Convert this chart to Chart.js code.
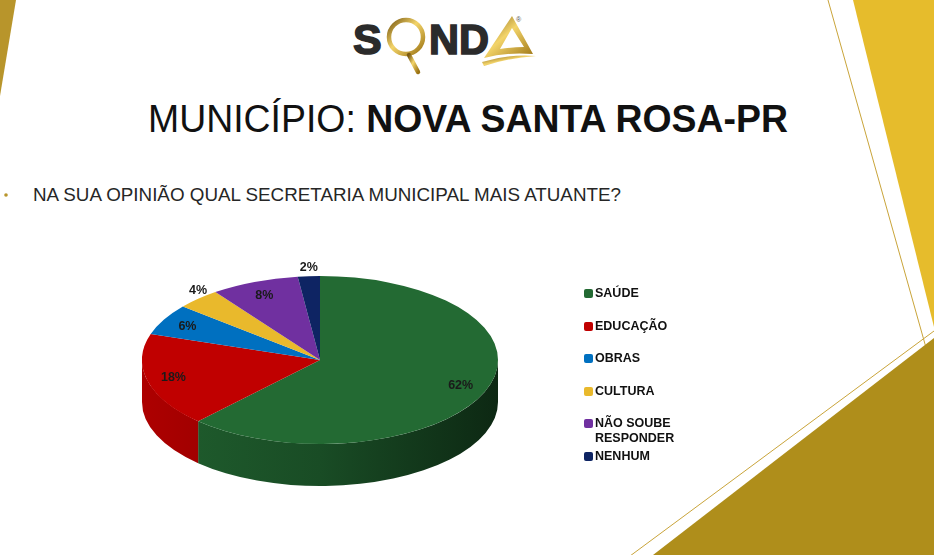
<!DOCTYPE html>
<html>
<head>
<meta charset="utf-8">
<script src="https://cdn.jsdelivr.net/npm/chart.js@4.4.0/dist/chart.umd.min.js"></script>
<style>
  html, body { margin: 0; padding: 0; background: #fff; }
  #slide { position: relative; width: 934px; height: 555px; overflow: hidden; background: #fff;
           font-family: "Liberation Sans", Arial, sans-serif; }
  #deco { position: absolute; left: 0; top: 0; }
  #pie { position: absolute; left: 0; top: 0; }
  #legend { position: absolute; left: 584px; top: 286px; margin: 0; padding: 0; list-style: none; }
  #legend li { height: 32.5px; display: flex; align-items: flex-start; }
  #legend .box { width: 9px; height: 9px; border-radius: 2px; margin-top: 3px; flex: none; }
  #legend .txt { width: 82px; margin-left: 2px; font-weight: bold; font-size: 12.5px; line-height: 15px; color: #111; }
</style>
</head>
<body>
<div id="slide">
  <svg id="deco" width="934" height="555" viewBox="0 0 934 555">
    <defs>
      <linearGradient id="gold" x1="0" y1="0" x2="1" y2="1">
        <stop offset="0" stop-color="#7a5a12"/>
        <stop offset="0.45" stop-color="#f3d46a"/>
        <stop offset="1" stop-color="#9c7414"/>
      </linearGradient>
    </defs>
    <!-- corner shapes -->
    <polygon points="0,0 16,0 0,96" fill="#B8952B"/>
    <polygon points="853,0 934,0 934,327" fill="#E6BC2C"/>
    <line x1="828" y1="0" x2="934" y2="376" stroke="#C9A43A" stroke-width="1"/>
    <line x1="630" y1="556" x2="934" y2="331" stroke="#C9A43A" stroke-width="1"/>
    <polygon points="653,555 934,338 934,555" fill="#AF8E1B"/>

    <!-- logo -->
    <text x="353" y="54" font-size="43" font-weight="bold" fill="#2B2B2B" stroke="#2B2B2B" stroke-width="1.6" font-family="Liberation Sans, Arial">S</text>
    <circle cx="406" cy="37" r="17" fill="none" stroke="url(#gold)" stroke-width="4.5"/>
    <line x1="409" y1="55" x2="418" y2="72" stroke="url(#gold)" stroke-width="4.5" stroke-linecap="round"/>
    <text x="429" y="54" font-size="43" font-weight="bold" fill="#2B2B2B" stroke="#2B2B2B" stroke-width="1.6" font-family="Liberation Sans, Arial" textLength="60" lengthAdjust="spacingAndGlyphs">ND</text>
    <path d="M512,16 L533,54 Q505,52 484,58 Z M512,28 L500,49 Q512,47 524,47 Z" fill="url(#gold)" fill-rule="evenodd"/>
    <path d="M482,62 Q508,54 536,56 Q508,58 484,66 Z" fill="url(#gold)"/>
    <text x="516" y="22" font-size="7" fill="#555" font-family="Liberation Sans, Arial">®</text>

    <!-- title -->
    <text x="148" y="132" font-size="38" fill="#111" font-family="Liberation Sans, Arial" textLength="640" lengthAdjust="spacingAndGlyphs">MUNICÍPIO: <tspan font-weight="bold">NOVA SANTA ROSA-PR</tspan></text>

    <!-- question -->
    <circle cx="6" cy="195" r="1.8" fill="#B8952B"/>
    <text x="33" y="201" font-size="19" fill="#262626" font-family="Liberation Sans, Arial" textLength="588" lengthAdjust="spacingAndGlyphs">NA SUA OPINIÃO QUAL SECRETARIA MUNICIPAL MAIS ATUANTE?</text>
  </svg>

  <canvas id="pie" width="934" height="555"></canvas>
  <ul id="legend"></ul>
</div>

<script>
// survey answers (percent)
const categories = ['SAÚDE', 'EDUCAÇÃO', 'OBRAS', 'CULTURA', 'NÃO SOUBE RESPONDER', 'NENHUM'];
const percents = [62, 18, 6, 4, 8, 2];
const sliceColors = ['#236A33', '#C00000', '#0070C0', '#E9B92C', '#7030A0', '#0E2463'];

// flattening of the pie and the height of its rim
const TILT = 0.472;
const DEPTH = 42;

function shade(hex, f) {
  const n = parseInt(hex.slice(1), 16);
  const r = Math.round(((n >> 16) & 255) * f);
  const g = Math.round(((n >> 8) & 255) * f);
  const b = Math.round((n & 255) * f);
  return 'rgb(' + r + ',' + g + ',' + b + ')';
}

// draws the rim, squashes the top into an ellipse, then writes the labels
const pie3d = {
  id: 'pie3d',
  beforeDatasetsDraw(chart) {
    const ctx = chart.ctx;
    const meta = chart.getDatasetMeta(0);
    const first = meta.data[0];
    const cx = first.x, cy = first.y, r = first.outerRadius;
    const ry = r * TILT;

    meta.data.forEach((arc, i) => {
      const a0 = Math.max(arc.startAngle, 0);
      const a1 = Math.min(arc.endAngle, Math.PI);
      if (a1 <= a0) return;
      const base = chart.data.datasets[0].backgroundColor[i];
      const grad = ctx.createLinearGradient(cx - r, 0, cx + r, 0);
      grad.addColorStop(0, shade(base, 0.9));
      grad.addColorStop(0.5, shade(base, 0.72));
      grad.addColorStop(1, shade(base, 0.38));
      ctx.beginPath();
      ctx.ellipse(cx, cy, r, ry, 0, a0, a1);
      ctx.lineTo(cx + r * Math.cos(a1), cy + ry * Math.sin(a1) + DEPTH);
      ctx.ellipse(cx, cy + DEPTH, r, ry, 0, a1, a0, true);
      ctx.closePath();
      ctx.fillStyle = grad;
      ctx.fill();
    });

    ctx.save();
    ctx.translate(cx, cy);
    ctx.scale(1, TILT);
    ctx.translate(-cx, -cy);
  },
  afterDatasetsDraw(chart) {
    const ctx = chart.ctx;
    ctx.restore();

    const meta = chart.getDatasetMeta(0);
    const values = chart.data.datasets[0].data;
    ctx.save();
    ctx.font = 'bold 12.5px "Liberation Sans", Arial, sans-serif';
    ctx.fillStyle = '#1a1a1a';
    ctx.textAlign = 'center';
    meta.data.forEach((arc, i) => {
      const mid = (arc.startAngle + arc.endAngle) / 2;
      const r = arc.outerRadius;
      const txt = values[i] + '%';
      if (values[i] <= 4) {
        // small slices: label sits just above the edge
        ctx.textBaseline = 'bottom';
        ctx.fillText(txt, arc.x + Math.cos(mid) * r, arc.y + Math.sin(mid) * r * TILT - 2);
      } else {
        ctx.textBaseline = 'middle';
        ctx.fillText(txt, arc.x + Math.cos(mid) * r * 0.85, arc.y + Math.sin(mid) * r * 0.82 * TILT);
      }
    });
    ctx.restore();
  }
};

const chart = new Chart(document.getElementById('pie'), {
  type: 'pie',
  data: {
    labels: categories,
    datasets: [{
      data: percents,
      backgroundColor: sliceColors,
      borderWidth: 0,
      hoverOffset: 0
    }]
  },
  options: {
    responsive: false,
    animation: false,
    events: [],
    layout: { padding: { left: 142, right: 436, top: 182, bottom: 17 } },
    plugins: {
      legend: { display: false },
      tooltip: { enabled: false }
    }
  },
  plugins: [pie3d]
});

// legend built from the chart's own data
const legend = document.getElementById('legend');
chart.data.labels.forEach((label, i) => {
  const li = document.createElement('li');
  li.innerHTML = '<span class="box" style="background:' + sliceColors[i] + '"></span><span class="txt">' + label + '</span>';
  legend.appendChild(li);
});
</script>
</body>
</html>
